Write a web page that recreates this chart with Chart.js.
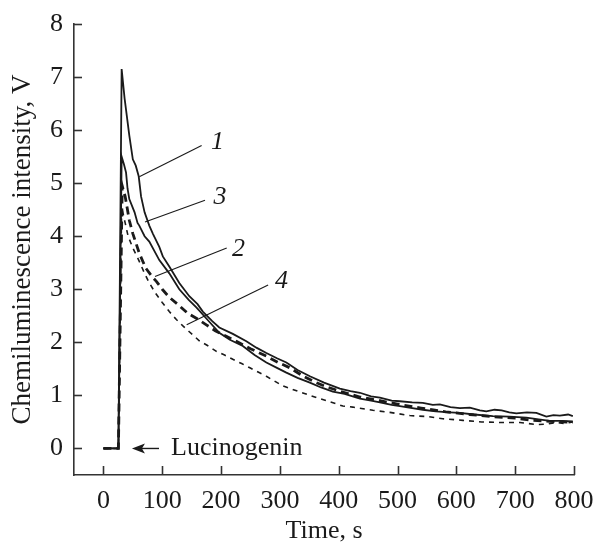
<!DOCTYPE html>
<html>
<head>
<meta charset="utf-8">
<script src="https://cdn.jsdelivr.net/npm/chart.js@4/dist/chart.umd.min.js"></script>
<style>
html,body{margin:0;padding:0;background:#fff;}
#wrap{width:597px;height:544px;position:relative;}
</style>
</head>
<body>
<div id="wrap"><canvas id="c" width="597" height="544"></canvas></div>
<script>
// ---- data (time in s, intensity in V) ----
const curve1 = [[0,0],[25.5,0],[31,7.15],[36,6.6],[44,5.9],[50,5.45],[55,5.33],[60,5.13],[64,4.75],[70,4.45],[78,4.2],[84,4.05],[95,3.8],[101,3.62],[112,3.43],[129,3.12],[146,2.87],[160,2.72],[169,2.58],[185,2.4],[197,2.28],[220,2.16],[243,2.02],[260,1.9],[277,1.8],[295,1.7],[311,1.62],[330,1.48],[351,1.36],[375,1.24],[402,1.13],[420,1.08],[436,1.05],[455,0.98],[470,0.96],[490,0.9],[504,0.89],[525,0.87],[543,0.86],[560,0.82],[572,0.83],[590,0.78],[606,0.76],[623,0.77],[640,0.72],[651,0.7],[665,0.73],[677,0.72],[690,0.68],[702,0.66],[720,0.68],[736,0.67],[753,0.6],[765,0.63],[776,0.62],[790,0.64],[798,0.61]];
const curve2 = [[0,0],[25.5,0],[32,4.95],[37,4.75],[44,4.3],[50,4.05],[61,3.68],[72,3.4],[84,3.22],[90,3.15],[100,3.0],[112,2.85],[128,2.7],[143,2.55],[160,2.44],[175,2.33],[190,2.22],[208,2.12],[226,2.02],[250,1.88],[277,1.74],[297,1.62],[317,1.52],[340,1.36],[360,1.25],[380,1.16],[402,1.08],[436,0.97],[470,0.9],[498,0.84],[540,0.76],[582,0.69],[623,0.64],[660,0.6],[700,0.57],[730,0.53],[759,0.51],[780,0.5],[798,0.49]];
const curve3 = [[0,0],[25.5,0],[31,5.5],[35,5.35],[38.5,5.2],[41,4.9],[44,4.7],[53,4.45],[58,4.25],[61,4.2],[70,4.0],[78,3.9],[95,3.55],[112,3.3],[129,3.0],[145,2.8],[158,2.66],[175,2.45],[197,2.18],[215,2.05],[237,1.93],[257,1.76],[277,1.62],[295,1.52],[311,1.43],[330,1.33],[351,1.24],[370,1.15],[390,1.07],[410,1.03],[436,0.94],[455,0.9],[470,0.87],[490,0.82],[504,0.8],[525,0.76],[543,0.73],[565,0.7],[589,0.68],[606,0.67],[630,0.64],[662,0.61],[690,0.6],[719,0.58],[740,0.55],[759,0.52],[780,0.52],[798,0.51]];
const curve4 = [[0,0],[25.5,0],[31,4.55],[36,4.3],[42,4.0],[50,3.78],[60,3.55],[70,3.3],[78,3.12],[89,2.92],[100,2.75],[112,2.58],[124,2.43],[136,2.3],[146,2.2],[163,2.03],[180,1.92],[192,1.83],[206,1.76],[220,1.68],[235,1.6],[249,1.52],[263,1.44],[277,1.36],[291,1.27],[305,1.18],[330,1.08],[362,0.96],[385,0.88],[407,0.8],[424,0.78],[458,0.72],[487,0.68],[521,0.62],[552,0.6],[577,0.56],[611,0.53],[643,0.5],[674,0.49],[708,0.49],[736,0.45],[755,0.46],[770,0.49],[785,0.47],[798,0.5]];
const xTicks = [0,100,200,300,400,500,600,700,800];
const yTicks = [0,1,2,3,4,5,6,7,8];
const curveLabels = ["1","3","2","4"];
// leader lines in data units: [t0,v0,t1,v1,textT,textV]
const leaders = [[61,5.12,167,5.71,194,5.77],[70.7,4.27,172.7,4.68,198,4.73],[87.7,3.24,209.6,3.78,229.7,3.75],[141.6,2.33,280,3.08,302.8,3.15]];
const arrowNote = {text:"Lucinogenin", fromT:94.5, toT:48.5, textT:115, v:0};

const toXY = a => a.map(p => ({x:p[0], y:p[1]}));
const INK = '#1a1a1a';
const AX = '#333';
const SERIF = "'Liberation Serif', 'Times New Roman', serif";

const extras = {
  id:'extras',
  afterDraw(chart){
    const ctx = chart.ctx, xs = chart.scales.x, ys = chart.scales.y, a = chart.chartArea;
    ctx.save();
    ctx.strokeStyle = AX; ctx.lineWidth = 1.6;
    xs.ticks.forEach(t => { const px = Math.round(xs.getPixelForValue(t.value)) + 0.5;
      ctx.beginPath(); ctx.moveTo(px, a.bottom); ctx.lineTo(px, a.bottom - 9); ctx.stroke(); });
    ys.ticks.forEach(t => { const py = Math.round(ys.getPixelForValue(t.value)) + 0.5;
      ctx.beginPath(); ctx.moveTo(a.left, py); ctx.lineTo(a.left + 8, py); ctx.stroke(); });
    // leaders and labels
    ctx.strokeStyle = INK; ctx.lineWidth = 1.1; ctx.fillStyle = INK;
    ctx.font = "italic 26px " + SERIF; ctx.textAlign = 'center'; ctx.textBaseline = 'middle';
    leaders.forEach((l,i) => {
      ctx.beginPath(); ctx.moveTo(xs.getPixelForValue(l[0]), ys.getPixelForValue(l[1]));
      ctx.lineTo(xs.getPixelForValue(l[2]), ys.getPixelForValue(l[3])); ctx.stroke();
      ctx.fillText(curveLabels[i], xs.getPixelForValue(l[4]), ys.getPixelForValue(l[5]));
    });
    // arrow + text
    const ay = ys.getPixelForValue(arrowNote.v);
    const x0 = xs.getPixelForValue(arrowNote.fromT), x1 = xs.getPixelForValue(arrowNote.toT);
    ctx.lineWidth = 1.4;
    ctx.beginPath(); ctx.moveTo(x0, ay); ctx.lineTo(x1 + 6, ay); ctx.stroke();
    ctx.beginPath(); ctx.moveTo(x1, ay); ctx.lineTo(x1 + 13, ay - 5); ctx.lineTo(x1 + 10, ay); ctx.lineTo(x1 + 13, ay + 5); ctx.closePath(); ctx.fill();
    ctx.font = "26px " + SERIF; ctx.textAlign = 'left';
    ctx.fillText(arrowNote.text, xs.getPixelForValue(arrowNote.textT), ay);
    ctx.restore();
  }
};

const ds = (data, w, dash) => ({data: toXY(data), borderColor: INK, borderWidth: w, borderDash: dash, pointRadius: 0, fill: false, tension: 0});

new Chart(document.getElementById('c'), {
  type: 'line',
  data: { datasets: [ ds(curve1,1.8,[]), ds(curve3,1.8,[]), ds(curve2,2.8,[8,5]), ds(curve4,1.6,[5,5]) ] },
  options: {
    responsive: false, animation: false, devicePixelRatio: 1,
    layout: { padding: {top:24, right:23, left:0, bottom:0} },
    plugins: { legend: {display:false}, tooltip: {enabled:false} },
    scales: {
      x: { type:'linear', min:-50, max:800,
        afterBuildTicks: s => { s.ticks = xTicks.map(v => ({value:v})); },
        afterFit: s => { s.height = 69; s.paddingLeft = 0; s.paddingRight = 0; },
        grid: {display:false, drawTicks:false},
        border: {display:true, color:AX, width:1.6},
        ticks: {color:INK, padding:11, font:{family:SERIF, size:26}, maxRotation:0, autoSkip:false},
        title: {display:true, text:'Time, s', color:INK, padding:{top:0,bottom:0}, font:{family:SERIF, size:26, lineHeight:1}}
      },
      y: { type:'linear', min:-0.5, max:8,
        afterBuildTicks: s => { s.ticks = yTicks.map(v => ({value:v})); },
        afterFit: s => { s.width = 74; s.paddingTop = 0; s.paddingBottom = 0; },
        grid: {display:false, drawTicks:false},
        border: {display:true, color:AX, width:1.6},
        ticks: {color:INK, padding:11, font:{family:SERIF, size:26}, autoSkip:false},
        title: {display:true, text:'Chemiluminescence intensity, V', color:INK, padding:{top:7,bottom:0}, font:{family:SERIF, size:27}}
      }
    }
  },
  plugins: [extras]
});
</script>
</body>
</html>
